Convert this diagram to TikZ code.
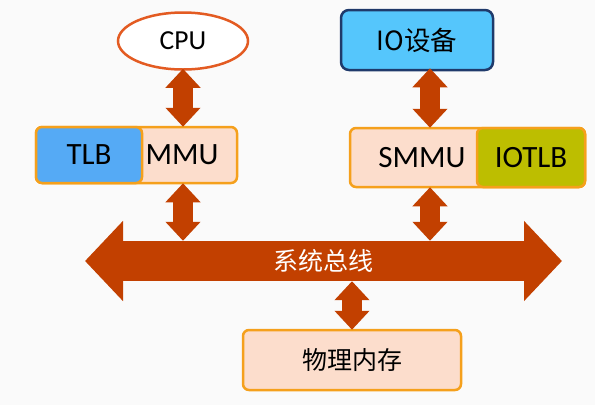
\documentclass[tikz,border=0pt]{standalone}
\usepackage{fontspec}
\setmainfont{Carlito}
\newfontfamily\cjk{Noto Sans CJK SC}
\usetikzlibrary{arrows.meta,shapes.geometric,calc}

\definecolor{linkred}{HTML}{C24000}
\definecolor{peach}{HTML}{FCDDCC}
\definecolor{boxorange}{HTML}{F5A01C}
\definecolor{cpuline}{HTML}{E35B22}
\definecolor{tlbblue}{HTML}{55AAF5}
\definecolor{ioblue}{HTML}{55C6FC}
\definecolor{ionavy}{HTML}{1F3A6B}
\definecolor{olive}{HTML}{BDBE00}

\tikzset{
	unit/.style={draw=boxorange, line width=2.5pt, rounded corners=6pt, fill=peach},
	link/.style={draw=linkred, line width=20pt,
		{Triangle[length=19pt,width=34pt]}-{Triangle[length=19pt,width=34pt]}},
	sysbus/.style={draw=linkred, line width=40pt,
		{Triangle[length=38pt,width=78pt]}-{Triangle[length=38pt,width=78pt]}},
	lbl/.style={font=\fontsize{31pt}{34pt}\selectfont}
}

\begin{document}
\begin{tikzpicture}[x=1pt, y=-1pt]
	\useasboundingbox (0,0) rectangle (595,405);
	\fill[white!98!black] (0,0) rectangle (595,405);

	%% the two top parts
	\node at (183,41) [ellipse, draw=cpuline, line width=2.5pt, fill=white,
		minimum width=130pt, minimum height=57pt, inner sep=0pt,
		font=\fontsize{27.5pt}{30pt}\selectfont] (cpu) {CPU};
	\node at (417,40) [draw=ionavy, line width=2.5pt, rounded corners=8pt, fill=ioblue,
		minimum width=152pt, minimum height=60pt, inner sep=0pt,
		font=\cjk\fontsize{26.5pt}{29pt}\selectfont] (io) {IO设备};

	%% MMU with its TLB
	\node at (136.5,155) [unit, minimum width=201pt, minimum height=56pt] (mmu) {};
	\node at (89,155) [unit, fill=tlbblue, minimum width=106pt, minimum height=56pt, lbl] (tlb) {TLB};
	\node at (182,155) [lbl] (mmulbl) {MMU};

	%% SMMU with its IOTLB
	\node at (467.5,157.5) [unit, minimum width=235pt, minimum height=59pt] (smmu) {};
	\node at (531,157.5) [unit, fill=olive, minimum width=108pt, minimum height=59pt, lbl] (iotlb) {IOTLB};
	\node at (422,158) [lbl] (smmulbl) {SMMU};
	\coordinate (iox) at (430,100);

	%% the bus
	\coordinate (busW) at (85,261);
	\coordinate (busE) at (562,261);
	\draw [sysbus] (busW) -- (busE);
	\node at ($(busW)!0.5!(busE)$) [minimum height=40pt, inner sep=0pt, text=white,
		font=\cjk\fontsize{25pt}{28pt}\selectfont] (bus) {系统总线};

	%% memory
	\node at (352,360) [unit, minimum width=218pt, minimum height=60pt,
		font=\cjk\fontsize{25pt}{28pt}\selectfont] (mem) {物理内存};

	%% links
	\draw [link] ([yshift=2pt]cpu.south) -- ([yshift=-1pt]mmu.north -| cpu.south);
	\draw [link] ([yshift=1pt]mmu.south -| cpu.south) -- (bus.north -| cpu.south);
	\draw [link] ([yshift=3pt]io.south -| iox) -- ([yshift=-1pt]smmu.north -| iox);
	\draw [link] ([yshift=1pt]smmu.south -| iox) -- (bus.north -| iox);
	\draw [link] (bus.south -| mem.north) -- ([yshift=-1pt]mem.north);
\end{tikzpicture}
\end{document}
